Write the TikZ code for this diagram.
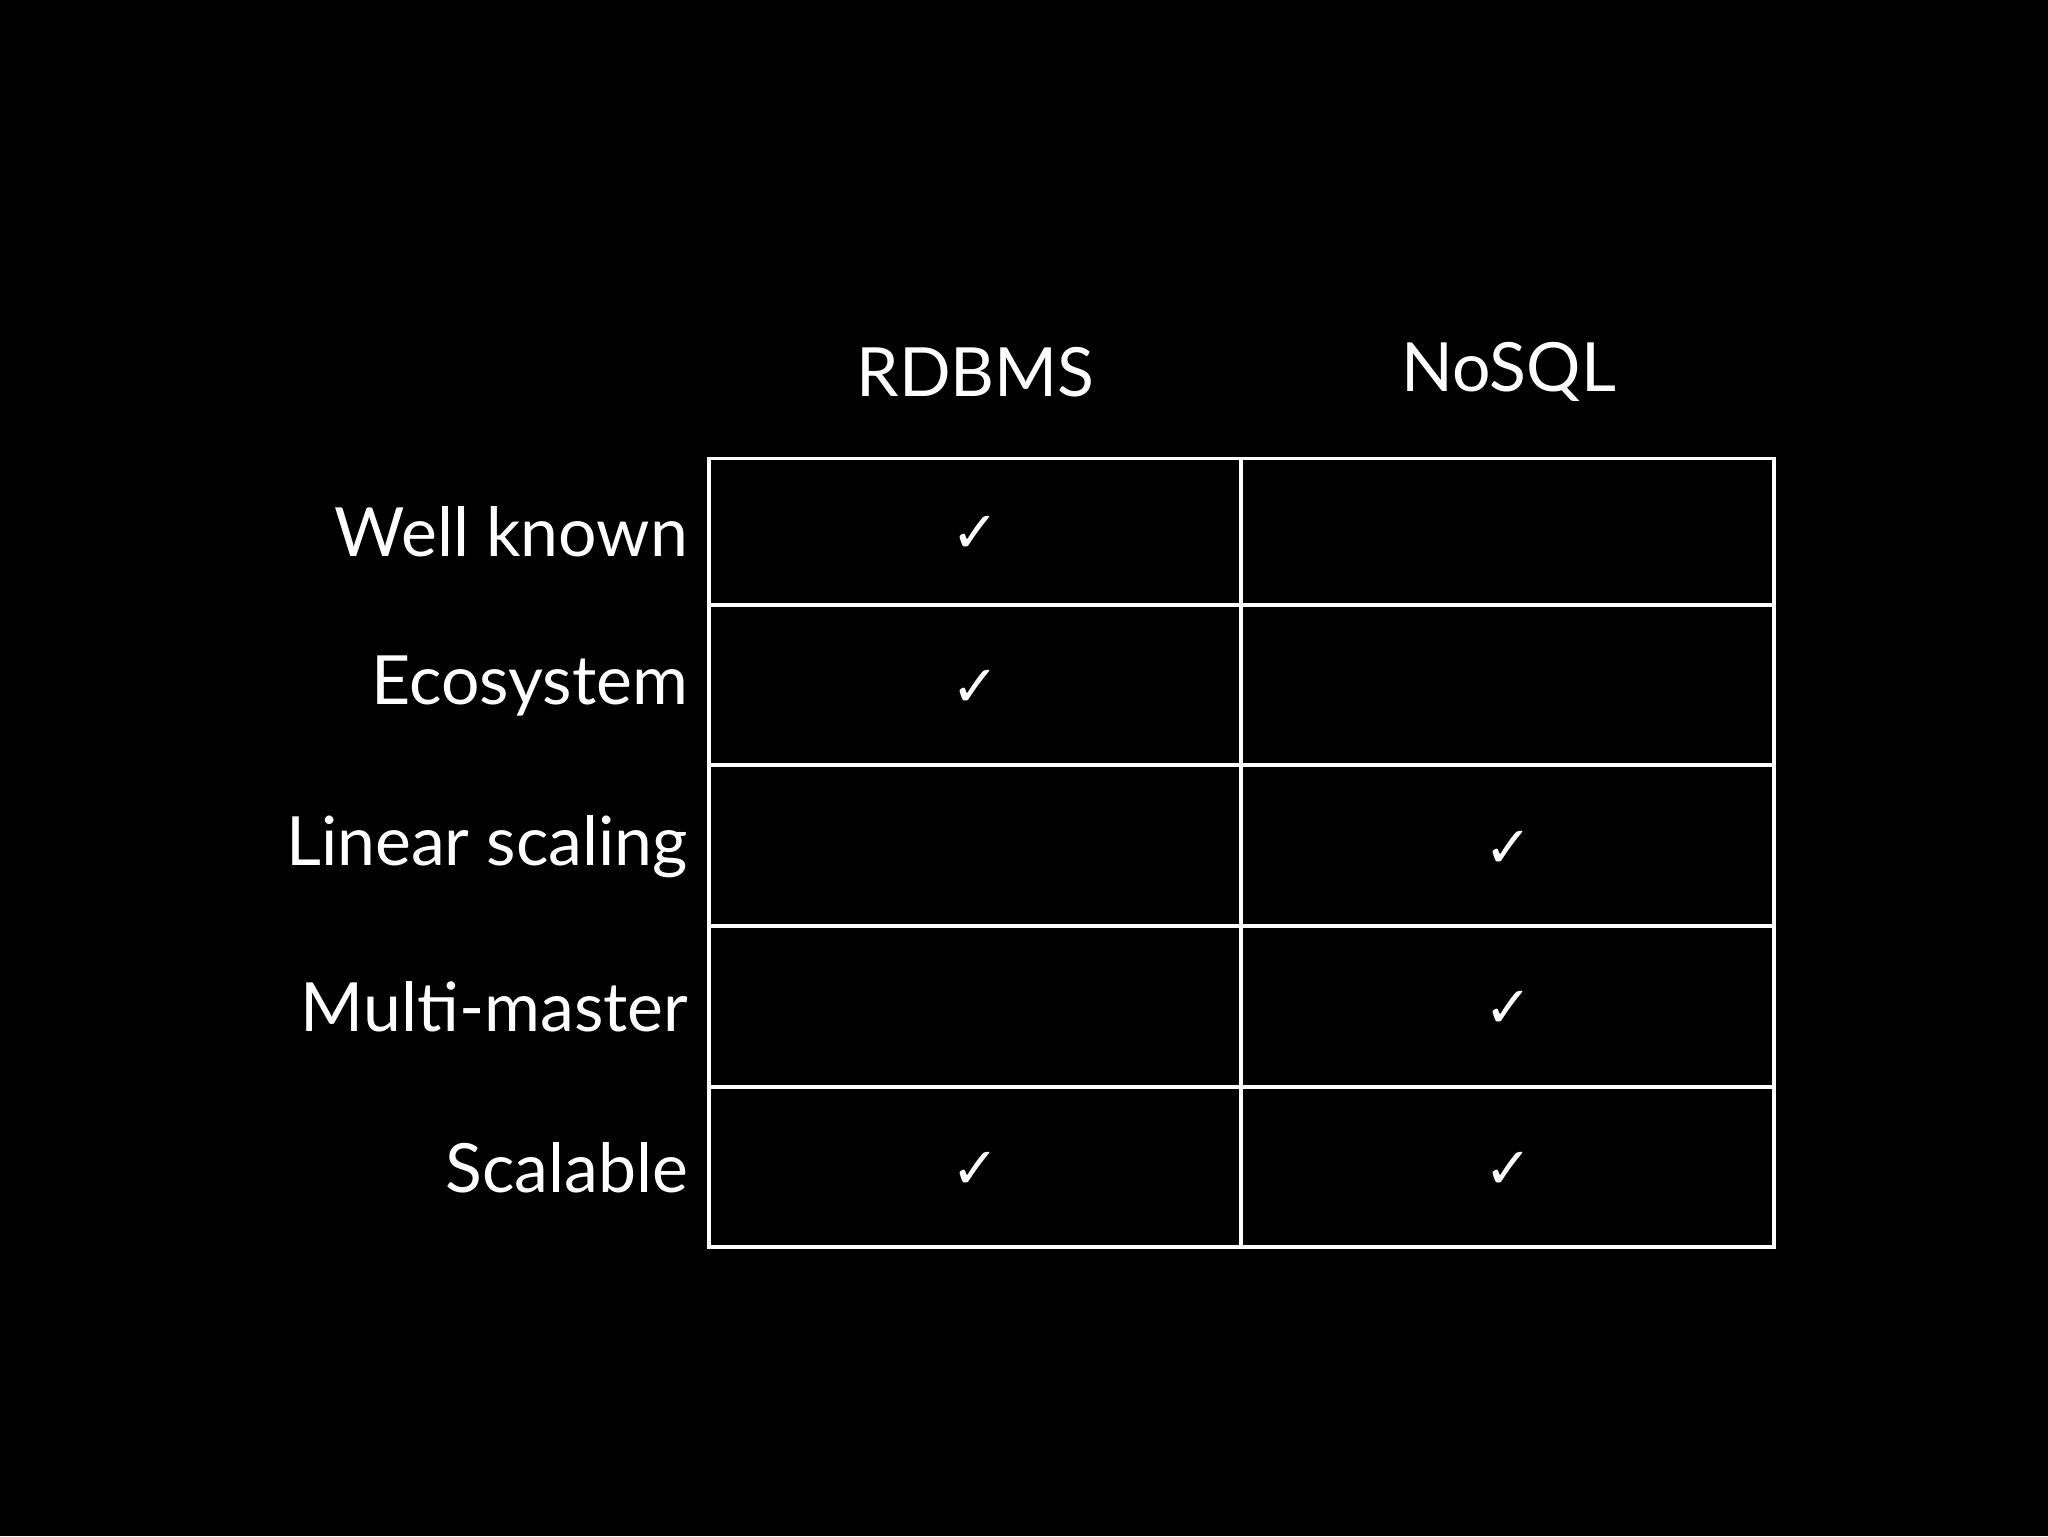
\documentclass[tikz,border=0pt]{standalone}
\usepackage{fontspec}
\setmainfont{Lato}
\newfontfamily\sym{DejaVu Sans}
\begin{document}
\begin{tikzpicture}[x=1pt,y=-1pt,
  lab/.style={text=white,font=\fontsize{52}{60}\selectfont,inner sep=0pt},
  chk/.style={text=white,font=\sym\fontsize{44}{50}\selectfont\bfseries,inner sep=0pt},
  cell/.style={draw=white,line width=3pt}]
\fill[black] (0,0) rectangle (1568,1176);
\useasboundingbox (0,0) rectangle (1568,1176);
\node[lab] (h1) at (747,285) {RDBMS};
\node[lab] (h2) at (1155,285) {NoSQL};
\foreach \y in {351,463,586,709,832}{\draw[cell] (543,\y) -- (1358,\y);}
\draw[cell] (543,351) rectangle (1358,955);
\draw[cell] (950,351) -- (950,955);
\node[lab,anchor=east] (r1) at (527,407) {Well known};
\node[lab,anchor=east] (r2) at (527,525) {Ecosystem};
\node[lab,anchor=east] (r3) at (527,648) {Linear scaling};
\node[lab,anchor=east] (r4) at (527,771) {Multi-master};
\node[lab,anchor=east] (r5) at (527,894) {Scalable};
\node[chk] (c1) at (747,409) {✓};
\node[chk] (c2) at (747,527) {✓};
\node[chk] (c3) at (1155,650) {✓};
\node[chk] (c4) at (1155,773) {✓};
\node[chk] (c5) at (747,896) {✓};
\node[chk] (c6) at (1155,896) {✓};
\end{tikzpicture}
\end{document}
